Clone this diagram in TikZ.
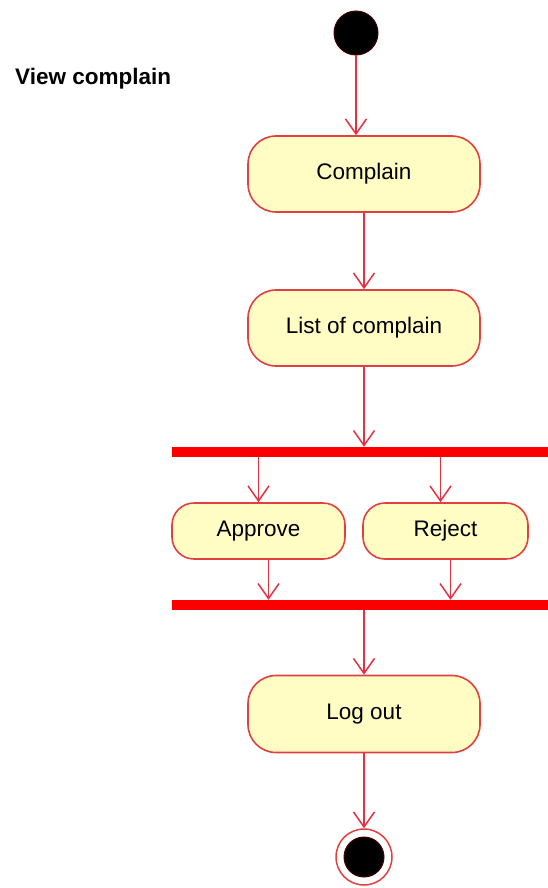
\documentclass[tikz,border=0pt]{standalone}
\usepackage{fontspec}
\setmainfont{Liberation Sans}
\usetikzlibrary{arrows.meta}
\definecolor{boxfill}{RGB}{255,253,196}
\definecolor{boxline}{RGB}{226,64,64}
\definecolor{flowred}{RGB}{228,48,64}
\definecolor{barred}{RGB}{250,0,0}
\definecolor{dotred}{RGB}{70,0,0}
\tikzset{
  act/.style={draw=boxline, line width=1.6pt, fill=boxfill, rounded corners=#1, inner sep=0pt, font=\fontsize{22.5}{26}\selectfont},
  flow/.style={draw=flowred, line width=1.5pt, -{Straight Barb[length=15pt,width=21pt,line width=1.5pt]}},
  bar/.style={fill=barred, draw=none},
}
\begin{document}
\begin{tikzpicture}[x=1pt,y=-1pt]
\useasboundingbox (0,0) rectangle (548,888);
% title
\node[anchor=west, font=\bfseries\fontsize{22.5}{26}\selectfont, inner sep=0pt] (title) at (15,79) {View complain};
% start
\node[circle, fill=black, draw=dotred, line width=1pt, minimum size=44pt, inner sep=0pt] (start) at (356,33) {};
% activities
\node[act=28pt, minimum width=232pt, minimum height=76pt] (complain) at (364,174) {Complain};
\node[act=28pt, minimum width=232pt, minimum height=76pt] (list) at (364,328) {List of complain};
\node[act=22pt, minimum width=173pt, minimum height=56pt] (approve) at (258.5,531) {Approve};
\node[act=22pt, minimum width=165pt, minimum height=56pt] (reject) at (445.5,531) {Reject};
\node[act=28pt, minimum width=232pt, minimum height=77pt] (logout) at (364,714) {Log out};
% bars
\node[bar, minimum width=376pt, minimum height=10pt, inner sep=0pt] (fork) at (360,452) {};
\node[bar, minimum width=376pt, minimum height=10pt, inner sep=0pt] (join) at (360,605) {};
% end
\node[circle, draw=boxline, fill=white, line width=1.5pt, minimum size=56pt, inner sep=0pt] (endo) at (364,857) {};
\node[circle, fill=black, draw=dotred, line width=1pt, minimum size=40pt, inner sep=0pt] (endi) at (endo.center) {};
% flows
\draw[flow] (start.south) -- (start.south |- complain.north);
\draw[flow] (complain.south) -- (list.north);
\draw[flow] (list.south) -- (list.south |- fork.north);
\draw[flow] (fork.south -| approve.north) -- (approve.north);
\draw[flow] ([xshift=-5pt]fork.south -| reject.north) -- ([xshift=-5pt]reject.north);
\draw[flow] ([xshift=10pt]approve.south) -- ([xshift=10pt]approve.south |- join.north);
\draw[flow] ([xshift=5pt]reject.south) -- ([xshift=5pt]reject.south |- join.north);
\draw[flow] (join.south -| logout.north) -- (logout.north);
\draw[flow] (logout.south) -- (endo.north);
\end{tikzpicture}
\end{document}
